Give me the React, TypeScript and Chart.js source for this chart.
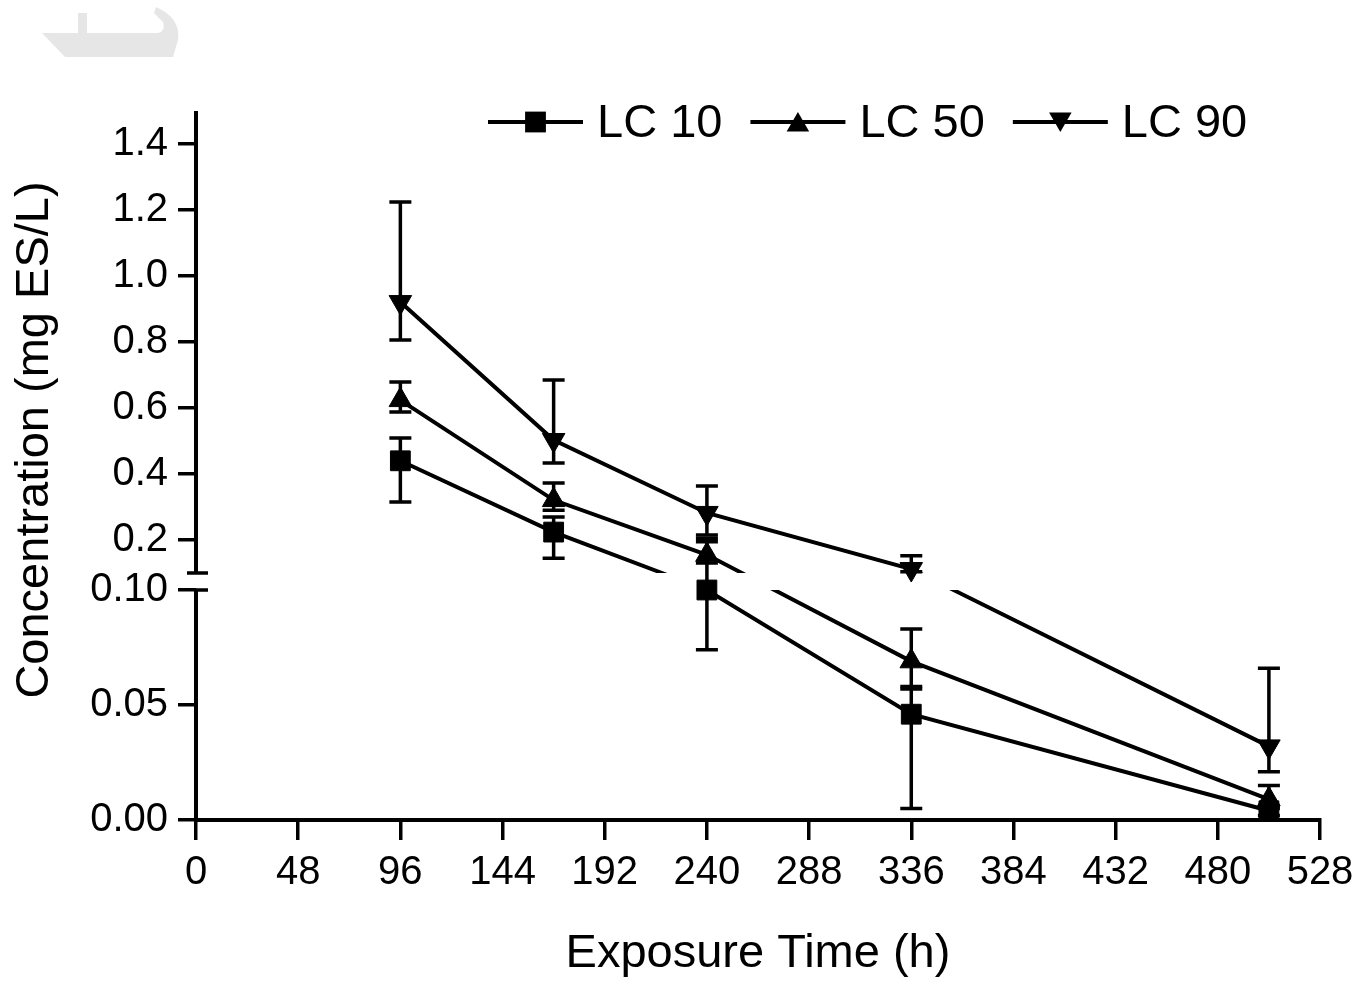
import React, { useEffect, useRef } from 'react';
import { Chart, registerables, LinearScale } from 'chart.js';

Chart.register(...registerables);

// ---------- data ----------
const TIMES = [96, 168, 240, 336, 504];

const LC10 = [0.44, 0.224, 0.1, 0.046, 0.004];
const LC10_LOW = [0.315, 0.145, 0.074, 0.005, 0.002];
const LC10_HIGH = [0.509, 0.27, 0.195, 0.057, 0.006];

const LC50 = [0.624, 0.321, 0.155, 0.069, 0.009];
const LC50_LOW = [0.588, 0.29, 0.13, 0.058, 0.005];
const LC50_HIGH = [0.679, 0.373, 0.205, 0.083, 0.015];

const LC90 = [0.921, 0.503, 0.282, 0.112, 0.032];
const LC90_LOW = [0.806, 0.433, 0.215, 0.104, 0.021];
const LC90_HIGH = [1.224, 0.685, 0.364, 0.152, 0.066];

const SERIES_LABELS = ['LC 10', 'LC 50', 'LC 90'];

const X_MIN = 0;
const X_MAX = 528;
const X_STEP = 48;

const Y_MIN = 0;
const Y_MAX = 1.5;
const Y_BREAK = 0.1;
const Y_TICKS = [0, 0.05, 0.1, 0.2, 0.4, 0.6, 0.8, 1.0, 1.2, 1.4];

const X_TITLE = 'Exposure Time (h)';
const Y_TITLE = 'Concentration (mg ES/L)';

// ---------- layout / style ----------
const FONT = '"Liberation Sans", Arial, Helvetica, sans-serif';
const LOWER_SHARE = 230 / 709;
const GAP_SHARE = 17 / 709;

class BrokenLinearScale extends LinearScale {
  static id = 'brokenLinear';
  static defaults = LinearScale.defaults;

  breakPixels() {
    const h = this.bottom - this.top;
    const lowTop = this.bottom - LOWER_SHARE * h;
    const upBottom = lowTop - GAP_SHARE * h;
    return { lowTop, upBottom };
  }

  getPixelForValue(value: number) {
    const min = this.min;
    const max = this.max;
    const { lowTop, upBottom } = this.breakPixels();
    if (value <= Y_BREAK + 1e-12) {
      return this.bottom - ((value - min) / (Y_BREAK - min)) * (this.bottom - lowTop);
    }
    return upBottom - ((value - Y_BREAK) / (max - Y_BREAK)) * (upBottom - this.top);
  }

  getValueForPixel(pixel: number) {
    const min = this.min;
    const max = this.max;
    const { lowTop, upBottom } = this.breakPixels();
    if (pixel >= lowTop) {
      return min + ((this.bottom - pixel) / (this.bottom - lowTop)) * (Y_BREAK - min);
    }
    return Y_BREAK + ((upBottom - pixel) / (upBottom - this.top)) * (max - Y_BREAK);
  }
}
Chart.register(BrokenLinearScale);

type Series = {
  label: string;
  values: number[];
  low: number[];
  high: number[];
  style: string;
  rotation: number;
  radius: number;
};

function drawMarker(ctx: CanvasRenderingContext2D, s: Series, x: number, y: number) {
  ctx.save();
  ctx.fillStyle = '#000';
  ctx.beginPath();
  if (s.style === 'rect') {
    const half = s.radius * Math.SQRT1_2 + 0.5;
    ctx.rect(x - half, y - half, half * 2, half * 2);
  } else {
    const r = s.radius;
    let rad = (s.rotation * Math.PI) / 180;
    for (let k = 0; k < 3; k++) {
      const px = x + Math.sin(rad) * r;
      const py = y - Math.cos(rad) * r;
      if (k === 0) ctx.moveTo(px, py);
      else ctx.lineTo(px, py);
      rad += (2 * Math.PI) / 3;
    }
    ctx.closePath();
  }
  ctx.fill();
  ctx.restore();
}

export default function App() {
  const ref = useRef<HTMLCanvasElement | null>(null);

  useEffect(() => {
    const canvas = ref.current;
    if (!canvas) return;

    const series: Series[] = [
      { label: SERIES_LABELS[0], values: LC10, low: LC10_LOW, high: LC10_HIGH, style: 'rect', rotation: 0, radius: 14 },
      { label: SERIES_LABELS[1], values: LC50, low: LC50_LOW, high: LC50_HIGH, style: 'triangle', rotation: 0, radius: 13 },
      { label: SERIES_LABELS[2], values: LC90, low: LC90_LOW, high: LC90_HIGH, style: 'triangle', rotation: 180, radius: 13 },
    ];

    const datasets: any[] = [];
    series.forEach((s) => {
      const pts = TIMES.map((t, i) => ({ x: t, y: s.values[i] }));
      datasets.push({
        label: s.label,
        data: pts,
        borderColor: '#000',
        backgroundColor: '#000',
        borderWidth: 4,
        pointRadius: 0,
        pointHoverRadius: 0,
        tension: 0,
        fill: false,
        breakClip: true,
      });
      datasets.push({
        label: s.label + ' markers',
        data: pts,
        showLine: false,
        pointStyle: s.style,
        pointRotation: s.rotation,
        pointRadius: s.radius,
        pointHoverRadius: s.radius,
        pointBackgroundColor: '#000',
        pointBorderColor: '#000',
        pointBorderWidth: 1,
        clip: false,
      });
    });

    const brokenPlugin = {
      id: 'brokenPlot',
      beforeDatasetsDraw(chart: any) {
        const ctx: CanvasRenderingContext2D = chart.ctx;
        const xs = chart.scales.x;
        const ys = chart.scales.y;
        const { lowTop, upBottom } = ys.breakPixels();
        const ax = chart.chartArea.left;
        ctx.save();
        ctx.strokeStyle = '#000';
        ctx.lineCap = 'butt';
        // y axis in two segments
        ctx.lineWidth = 4;
        ctx.beginPath();
        ctx.moveTo(ax, ys.top);
        ctx.lineTo(ax, upBottom);
        ctx.moveTo(ax, lowTop);
        ctx.lineTo(ax, ys.bottom + 2);
        ctx.stroke();
        // break caps
        ctx.lineWidth = 3.5;
        ctx.beginPath();
        ctx.moveTo(ax - 9, upBottom);
        ctx.lineTo(ax + 12, upBottom);
        ctx.moveTo(ax, lowTop);
        ctx.lineTo(ax + 12, lowTop);
        ctx.stroke();
        // error bars
        ctx.lineWidth = 3.5;
        series.forEach((s) => {
          TIMES.forEach((t, i) => {
            const px = xs.getPixelForValue(t);
            const y1 = ys.getPixelForValue(s.low[i]);
            const y2 = ys.getPixelForValue(s.high[i]);
            ctx.beginPath();
            ctx.moveTo(px, y1);
            ctx.lineTo(px, y2);
            ctx.moveTo(px - 11, y1);
            ctx.lineTo(px + 11, y1);
            ctx.moveTo(px - 11, y2);
            ctx.lineTo(px + 11, y2);
            ctx.stroke();
          });
        });
        ctx.restore();
      },
      beforeDatasetDraw(chart: any, args: any) {
        const ds = chart.data.datasets[args.index];
        if (!ds.breakClip) return;
        const ctx: CanvasRenderingContext2D = chart.ctx;
        const { lowTop, upBottom } = chart.scales.y.breakPixels();
        const w = chart.width;
        const h = chart.height;
        ctx.save();
        ctx.beginPath();
        ctx.rect(0, 0, w, upBottom);
        ctx.rect(0, lowTop, w, h - lowTop);
        ctx.clip();
      },
      afterDatasetDraw(chart: any, args: any) {
        const ds = chart.data.datasets[args.index];
        if (!ds.breakClip) return;
        chart.ctx.restore();
      },
      afterDraw(chart: any) {
        const ctx: CanvasRenderingContext2D = chart.ctx;
        ctx.save();
        // faint logo remnant at top-left
        ctx.fillStyle = '#e6e6e6';
        ctx.beginPath();
        ctx.rect(78, 13, 9, 21);
        ctx.moveTo(42, 33);
        ctx.lineTo(158, 33);
        ctx.quadraticCurveTo(166, 31, 163, 22);
        ctx.lineTo(154, 13);
        ctx.lineTo(156, 7);
        ctx.quadraticCurveTo(181, 18, 178, 40);
        ctx.lineTo(173, 57);
        ctx.lineTo(65, 57);
        ctx.closePath();
        ctx.fill();

        // y title
        ctx.fillStyle = '#000';
        ctx.font = `47px ${FONT}`;
        ctx.textAlign = 'center';
        ctx.textBaseline = 'middle';
        ctx.save();
        ctx.translate(35, 440);
        ctx.rotate(-Math.PI / 2);
        ctx.fillText(Y_TITLE, 0, 0);
        ctx.restore();

        // legend
        ctx.font = `47px ${FONT}`;
        ctx.textAlign = 'left';
        ctx.textBaseline = 'middle';
        const ly = 122;
        let lx = 488;
        series.forEach((s) => {
          ctx.strokeStyle = '#000';
          ctx.lineWidth = 4;
          ctx.beginPath();
          ctx.moveTo(lx, ly);
          ctx.lineTo(lx + 95, ly);
          ctx.stroke();
          drawMarker(ctx, s, lx + 47.5, ly + (s.style === 'rect' ? 0 : s.rotation ? -3 : 3));
          const tx = lx + 95 + 14;
          ctx.fillStyle = '#000';
          ctx.fillText(s.label, tx, ly + 2);
          lx = tx + ctx.measureText(s.label).width + 28;
        });
        ctx.restore();
      },
    };

    const chart = new Chart(canvas, {
      type: 'line',
      data: { datasets },
      options: {
        animation: false,
        responsive: false,
        devicePixelRatio: 1,
        events: [],
        layout: { padding: { left: 0, top: 111, right: 52, bottom: 0 } },
        plugins: {
          legend: { display: false },
          tooltip: { enabled: false },
        },
        scales: {
          x: {
            type: 'linear',
            min: X_MIN,
            max: X_MAX,
            ticks: {
              stepSize: X_STEP,
              autoSkip: false,
              maxRotation: 0,
              color: '#000',
              padding: 9,
              font: { family: FONT, size: 40 },
            },
            grid: {
              display: true,
              drawOnChartArea: false,
              drawTicks: true,
              tickLength: 20,
              color: '#000',
              lineWidth: 3.5,
            },
            border: { display: true, color: '#000', width: 4 },
            title: {
              display: true,
              text: X_TITLE,
              color: '#000',
              font: { family: FONT, size: 47 },
              padding: { top: 0, bottom: 2 },
            },
            afterFit: (s: any) => {
              s.height = 164;
            },
          },
          y: {
            type: 'brokenLinear' as any,
            min: Y_MIN,
            max: Y_MAX,
            afterBuildTicks: (s: any) => {
              s.ticks = Y_TICKS.map((v) => ({ value: v }));
            },
            ticks: {
              autoSkip: false,
              color: '#000',
              padding: 10,
              font: { family: FONT, size: 40 },
              callback: (v: any) => {
                const n = Number(v);
                return n <= Y_BREAK + 1e-9 ? n.toFixed(2) : n.toFixed(1);
              },
            },
            grid: {
              display: true,
              drawOnChartArea: false,
              drawTicks: true,
              tickLength: 18,
              color: '#000',
              lineWidth: 3.5,
            },
            border: { display: false },
            afterFit: (s: any) => {
              s.width = 196;
            },
          },
        },
      } as any,
      plugins: [brokenPlugin],
    });

    return () => {
      chart.destroy();
    };
  }, []);

  return (
    <div style={{ position: 'fixed', left: 0, top: 0, width: 1372, height: 984, background: '#fff' }}>
      <canvas ref={ref} width={1372} height={984} style={{ display: 'block', width: 1372, height: 984 }} />
    </div>
  );
}
